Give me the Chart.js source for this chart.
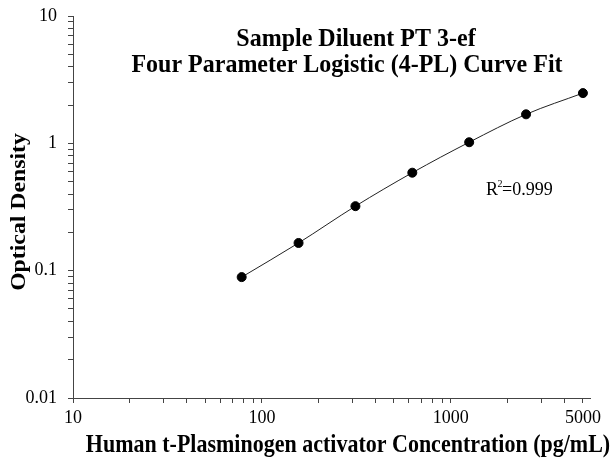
<!DOCTYPE html>
<html>
<head>
<meta charset="utf-8">
<script src="https://cdn.jsdelivr.net/npm/chart.js@4/dist/chart.umd.min.js"></script>
<style>
html,body{margin:0;padding:0;background:#fff;}
canvas{display:block;}
</style>
</head>
<body>
<canvas id="c" width="613" height="459"></canvas>
<script>
// Data
const concentrations = [78.125, 156.25, 312.5, 625, 1250, 2500, 5000];
const odValues = [0.089, 0.165, 0.321, 0.588, 1.02, 1.69, 2.48];
const xTickValues = [10,20,30,40,50,60,70,80,90,100,200,300,400,500,600,700,800,900,1000,2000,3000,4000,5000];
const xTickLabels = ['10','100','1000','5000'];
const yTickValues = [0.01,0.02,0.03,0.04,0.05,0.06,0.07,0.08,0.09,0.1,0.2,0.3,0.4,0.5,0.6,0.7,0.8,0.9,1,2,3,4,5,6,7,8,9,10];
const yTickLabels = ['0.01','0.1','1','10'];
const titleLines = ['Sample Diluent PT 3-ef', 'Four Parameter Logistic (4-PL) Curve Fit'];
const xAxisTitle = 'Human t-Plasminogen activator Concentration (pg/mL)';
const yAxisTitle = 'Optical Density';
const rSquaredText = '0.999';

const serif = "'Liberation Serif', 'Times New Roman', serif";

function fmt(v){ return String(parseFloat(v.toPrecision(6))); }

function stretchedText(ctx, text, x, y, sy){
  ctx.save();
  ctx.translate(x, y);
  ctx.scale(1, sy);
  ctx.fillText(text, 0, 0);
  ctx.restore();
}

const overlay = {
  id: 'overlay',
  afterDraw(chart){
    const ctx = chart.ctx;
    ctx.save();
    ctx.fillStyle = '#000';
    ctx.textAlign = 'center';
    ctx.textBaseline = 'alphabetic';
    // chart title (drawn inside the plot area as in the reference)
    ctx.font = "bold 24px " + serif;
    stretchedText(ctx, titleLines[0], 356, 46, 1.08);
    stretchedText(ctx, titleLines[1], 347, 72, 1.08);
    // x axis title
    ctx.font = "bold 22px " + serif;
    stretchedText(ctx, xAxisTitle, 348, 452, 1.12);
    // y axis title (rotated)
    ctx.save();
    ctx.translate(25, 212);
    ctx.rotate(-Math.PI / 2);
    ctx.font = "bold 22px " + serif;
    ctx.scale(1.08, 1);
    ctx.fillText(yAxisTitle, 0, 0);
    ctx.restore();
    // R^2 annotation
    ctx.textAlign = 'left';
    ctx.font = "18px " + serif;
    let x = 486, y = 195;
    ctx.fillText('R', x, y);
    x += ctx.measureText('R').width - 0.5;
    ctx.font = "10px " + serif;
    ctx.fillText('2', x, y - 8);
    x += ctx.measureText('2').width - 0.5;
    ctx.font = "18px " + serif;
    ctx.fillText('=' + rSquaredText, x, y);
    ctx.restore();
  }
};

new Chart(document.getElementById('c'), {
  type: 'line',
  data: {
    datasets: [{
      data: concentrations.map((c, i) => ({x: c, y: odValues[i]})),
      borderColor: '#222',
      borderWidth: 1,
      backgroundColor: '#000',
      pointBackgroundColor: '#000',
      pointBorderColor: '#000',
      pointRadius: 4.5,
      pointHoverRadius: 4.5,
      cubicInterpolationMode: 'monotone',
      fill: false
    }]
  },
  options: {
    responsive: false,
    animation: false,
    events: [],
    layout: {padding: {top: 16, right: 23, bottom: 0, left: 0}},
    plugins: {legend: {display: false}, tooltip: {enabled: false}},
    scales: {
      x: {
        type: 'logarithmic',
        min: 10,
        max: 5450,
        afterBuildTicks(scale){ scale.ticks = xTickValues.map(v => ({value: v})); },
        afterFit(scale){ scale.height = 61; scale.paddingLeft = 0; scale.paddingRight = 0; },
        border: {display: true, color: '#444', width: 1},
        grid: {drawOnChartArea: false, drawTicks: true, tickLength: 5, color: '#444'},
        ticks: {
          autoSkip: false, maxRotation: 0, padding: 4, color: '#000',
          font: {family: serif, size: 18},
          callback(v){ const s = fmt(v); return xTickLabels.includes(s) ? s : ''; }
        },
        title: {display: false}
      },
      y: {
        type: 'logarithmic',
        min: 0.01,
        max: 10,
        afterBuildTicks(scale){ scale.ticks = yTickValues.map(v => ({value: v})); },
        afterFit(scale){ scale.width = 73; scale.paddingTop = 0; scale.paddingBottom = 0; },
        border: {display: true, color: '#444', width: 1},
        grid: {drawOnChartArea: false, drawTicks: true, tickLength: 5, color: '#444'},
        ticks: {
          autoSkip: false, padding: 11, color: '#000',
          font: {family: serif, size: 18},
          callback(v){ const s = fmt(v); return yTickLabels.includes(s) ? s : ''; }
        },
        title: {display: false}
      }
    }
  },
  plugins: [overlay]
});
</script>
</body>
</html>
